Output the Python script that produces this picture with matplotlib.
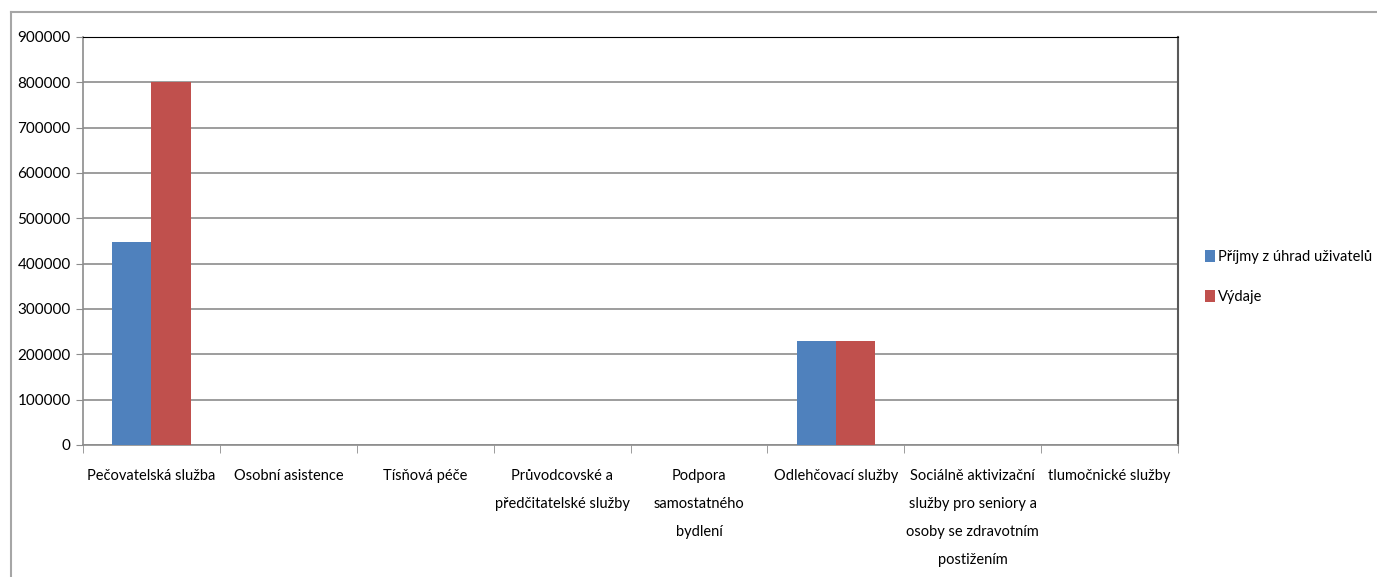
import matplotlib.pyplot as plt
import matplotlib.ticker as ticker
from matplotlib.lines import Line2D
import numpy as np

plt.rcParams['font.family'] = ['Lato', 'DejaVu Sans']

categories = [
    "Pečovatelská služba",
    "Osobní asistence",
    "Tísňová péče",
    "Průvodcovské a\npředčitatelské služby",
    "Podpora\nsamostatného\nbydlení",
    "Odlehčovací služby",
    "Sociálně aktivizační\nslužby pro seniory a\nosoby se zdravotním\npostižením",
    "tlumočnické služby",
]
prijmy = [448000, 0, 0, 0, 0, 230000, 0, 0]
vydaje = [800000, 0, 0, 0, 0, 230000, 0, 0]
series_names = ["Příjmy z úhrad uživatelů", "Výdaje"]

fig = plt.figure(figsize=(13.77, 5.77), dpi=100)
ax = fig.add_axes([0.0603, 0.2288, 0.7952, 0.7071])

# outer chart frame (left and top only visible in the reference)
fig.add_artist(Line2D([11 / 1377, 11 / 1377], [0, 1 - 12 / 577],
                      transform=fig.transFigure, color="#a6a6a6", lw=1.5))
fig.add_artist(Line2D([11 / 1377, 1], [1 - 12 / 577, 1 - 12 / 577],
                      transform=fig.transFigure, color="#a6a6a6", lw=1.5))

x = np.arange(len(categories))
w = 1 / 3.5
ax.bar(x - w / 2, prijmy, w, color="#4F81BD", label=series_names[0], zorder=3)
ax.bar(x + w / 2, vydaje, w, color="#C0504D", label=series_names[1], zorder=3)

ax.set_xlim(-0.5, len(categories) - 0.5)
ax.set_ylim(0, 900000)
ax.set_yticks(range(0, 900001, 100000))
ax.yaxis.grid(True, color="#8c8c8c", lw=1.2, zorder=0)
ax.tick_params(axis="y", length=5, color="#8c8c8c", labelsize=11, pad=4)

ax.set_xticks(x)
ax.set_xticklabels(categories, fontsize=10.5, linespacing=2.28)
ax.tick_params(axis="x", which="major", length=0, pad=17)
ax.xaxis.set_minor_locator(ticker.FixedLocator(np.arange(-0.5, len(categories), 1)))
ax.tick_params(axis="x", which="minor", length=6, color="#8c8c8c")

for side in ["left", "bottom"]:
    ax.spines[side].set_color("#8c8c8c")
    ax.spines[side].set_linewidth(1.2)
ax.spines["top"].set_color("#000000")
ax.spines["right"].set_color("#595959")
ax.spines["right"].set_linewidth(1.5)

ax.legend(loc="center left", bbox_to_anchor=(0.871, 0.520), bbox_transform=fig.transFigure,
          frameon=False, fontsize=10.5, handlelength=0.7, handleheight=0.9,
          handletextpad=0.15, labelspacing=1.75, borderaxespad=0)

fig.savefig("out.png", dpi=100)
